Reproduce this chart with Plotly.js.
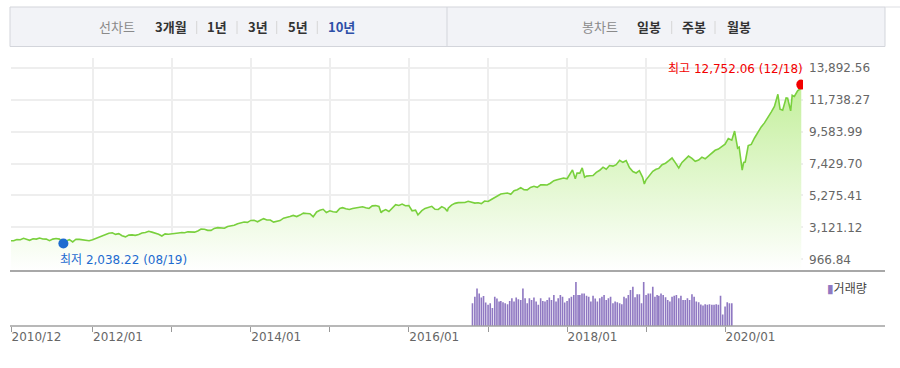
<!DOCTYPE html>
<html><head><meta charset="utf-8">
<script src="https://cdn.plot.ly/plotly-3.0.1.min.js"></script>
<style>html,body{margin:0;padding:0;background:#fff;}#chart{width:900px;height:368px;}</style>
</head><body><div id="chart"></div>
<script>
// ---------- DATA ----------
const lineDates = [
'2010-12-20',
'2011-01-01','2011-01-16','2011-02-01','2011-02-16','2011-03-01','2011-03-16','2011-04-01','2011-04-16','2011-05-01','2011-05-16','2011-06-01','2011-06-16','2011-07-01','2011-07-16','2011-08-01','2011-08-10','2011-08-19','2011-09-01','2011-09-16','2011-10-01','2011-10-16','2011-11-01','2011-11-16','2011-12-01','2011-12-16',
'2012-01-01','2012-01-16','2012-02-01','2012-02-16','2012-03-01','2012-03-16','2012-04-01','2012-04-16','2012-05-01','2012-05-16','2012-06-01','2012-06-16','2012-07-01','2012-07-16','2012-08-01','2012-08-16','2012-09-01','2012-09-16','2012-10-01','2012-10-16','2012-11-01','2012-11-16','2012-12-01','2012-12-16',
'2013-01-01','2013-01-16','2013-02-01','2013-02-16','2013-03-01','2013-03-16','2013-04-01','2013-04-16','2013-05-01','2013-05-16','2013-06-01','2013-06-16','2013-07-01','2013-07-16','2013-08-01','2013-08-16','2013-09-01','2013-09-16','2013-10-01','2013-10-16','2013-11-01','2013-11-16','2013-12-01','2013-12-16',
'2014-01-01','2014-01-16','2014-02-01','2014-02-16','2014-03-01','2014-03-16','2014-04-01','2014-04-16','2014-05-01','2014-05-16','2014-06-01','2014-06-16','2014-07-01','2014-07-16','2014-08-01','2014-08-16','2014-09-01','2014-09-16','2014-10-01','2014-10-16','2014-11-01','2014-11-16','2014-12-01','2014-12-16',
'2015-01-01','2015-01-16','2015-02-01','2015-02-16','2015-03-01','2015-03-16','2015-04-01','2015-04-16','2015-05-01','2015-05-16','2015-06-01','2015-06-16','2015-07-01','2015-07-16','2015-08-01','2015-08-16','2015-08-26','2015-09-01','2015-09-16','2015-10-01','2015-10-16','2015-11-01','2015-11-16','2015-12-01','2015-12-16',
'2016-01-01','2016-01-16','2016-02-01','2016-02-12','2016-03-01','2016-03-16','2016-04-01','2016-04-16','2016-05-01','2016-05-16','2016-06-01','2016-06-16','2016-06-27','2016-07-01','2016-07-16','2016-08-01','2016-08-16','2016-09-01','2016-09-16','2016-10-01','2016-10-16','2016-11-01','2016-11-16','2016-12-01','2016-12-16',
'2017-01-01','2017-01-16','2017-02-01','2017-02-16','2017-03-01','2017-03-16','2017-04-01','2017-04-16','2017-05-01','2017-05-16','2017-06-01','2017-06-16','2017-07-01','2017-07-16','2017-08-01','2017-08-16','2017-09-01','2017-09-16','2017-10-01','2017-10-16','2017-11-01','2017-11-16','2017-12-01','2017-12-16',
'2018-01-01','2018-01-16','2018-01-26','2018-02-08','2018-02-16','2018-03-01','2018-03-12','2018-03-23','2018-04-01','2018-04-16','2018-05-01','2018-05-16','2018-06-01','2018-06-16','2018-07-01','2018-07-16','2018-08-01','2018-08-16','2018-09-01','2018-09-16','2018-10-01','2018-10-16','2018-11-01','2018-11-16','2018-12-01','2018-12-16','2018-12-24',
'2019-01-01','2019-01-16','2019-02-01','2019-02-16','2019-03-01','2019-03-16','2019-04-01','2019-04-16','2019-05-01','2019-05-16','2019-06-01','2019-06-16','2019-07-01','2019-07-16','2019-08-01','2019-08-16','2019-09-01','2019-09-16','2019-10-01','2019-10-16','2019-11-01','2019-11-16','2019-12-01','2019-12-16',
'2020-01-01','2020-01-16','2020-02-01','2020-02-14','2020-02-28','2020-03-06','2020-03-13','2020-03-20','2020-03-27','2020-04-03','2020-04-17','2020-05-01','2020-05-16','2020-06-01','2020-06-16','2020-07-01','2020-07-16','2020-08-01','2020-08-16','2020-09-01','2020-09-11','2020-09-23','2020-10-09','2020-10-16','2020-10-30','2020-11-06','2020-11-16','2020-12-01','2020-12-11','2020-12-18'
];
const lineValues = [
2215,
2220,2300,2290,2380,2330,2250,2350,2330,2400,2340,2330,2220,2330,2370,2330,2150,2038.22,2210,2290,2140,2320,2310,2290,2270,2220,
2280,2380,2480,2570,2650,2730,2755,2650,2700,2560,2480,2600,2616,2580,2640,2740,2770,2860,2800,2740,2660,2540,2680,2660,
2670,2700,2740,2770,2760,2820,2810,2800,2880,3000,2990,2920,2920,3050,3100,3060,3060,3180,3220,3260,3360,3420,3480,3460,
3590,3600,3500,3620,3710,3620,3620,3480,3530,3580,3740,3780,3850,3930,3850,3950,4080,4060,4040,3840,4160,4270,4340,4120,
4240,4170,4150,4400,4450,4380,4330,4400,4420,4490,4510,4450,4400,4570,4590,4530,4100,4210,4320,4190,4430,4650,4600,4690,4580,
4590,4240,4280,3960,4250,4400,4500,4540,4340,4330,4520,4400,4200,4420,4620,4740,4790,4780,4800,4880,4810,4760,4780,4730,4900,
4870,5000,5120,5280,5370,5410,5440,5350,5590,5660,5800,5660,5650,5820,5890,5820,5990,6000,5980,6100,6270,6340,6370,6450,
6400,6820,7000,6400,6780,6780,7130,6500,6580,6600,6620,6830,6970,7180,7040,7290,7250,7350,7650,7510,7630,7150,6890,6790,6950,6500,6050,
6330,6640,6900,7040,7100,7350,7450,7620,7800,7490,7130,7500,7700,7930,7780,7580,7660,7860,7750,7950,8150,8320,8400,8590,
8730,9120,9000,9620,8460,8530,7880,6990,7500,7530,8640,8720,9150,9560,9900,10170,10570,10900,11280,12100,11090,11030,11850,11830,10980,12030,11950,12330,12440,12752.06
];
const volumeDates = [
'2016-10-21','2016-11-01','2016-11-11','2016-11-21','2016-12-01','2016-12-11','2016-12-21',
'2017-01-01','2017-01-11','2017-01-21','2017-02-01','2017-02-11','2017-02-21','2017-03-01','2017-03-11','2017-03-21','2017-04-01','2017-04-11','2017-04-21','2017-05-01','2017-05-11','2017-05-21','2017-06-01','2017-06-11','2017-06-21','2017-07-01','2017-07-11','2017-07-21','2017-08-01','2017-08-11','2017-08-21','2017-09-01','2017-09-11','2017-09-21','2017-10-01','2017-10-11','2017-10-21','2017-11-01','2017-11-11','2017-11-21','2017-12-01','2017-12-11','2017-12-21',
'2018-01-01','2018-01-11','2018-01-21','2018-02-01','2018-02-11','2018-02-21','2018-03-01','2018-03-11','2018-03-21','2018-04-01','2018-04-11','2018-04-21','2018-05-01','2018-05-11','2018-05-21','2018-06-01','2018-06-11','2018-06-21','2018-07-01','2018-07-11','2018-07-21','2018-08-01','2018-08-11','2018-08-21','2018-09-01','2018-09-11','2018-09-21','2018-10-01','2018-10-11','2018-10-21','2018-11-01','2018-11-11','2018-11-21','2018-12-01','2018-12-11','2018-12-21',
'2019-01-01','2019-01-11','2019-01-21','2019-02-01','2019-02-11','2019-02-21','2019-03-01','2019-03-11','2019-03-21','2019-04-01','2019-04-11','2019-04-21','2019-05-01','2019-05-11','2019-05-21','2019-06-01','2019-06-11','2019-06-21','2019-07-01','2019-07-11','2019-07-21','2019-08-01','2019-08-11','2019-08-21','2019-09-01','2019-09-11','2019-09-21','2019-10-01','2019-10-11','2019-10-21','2019-11-01','2019-11-11','2019-11-21','2019-12-01','2019-12-11','2019-12-21',
'2020-01-01','2020-01-11','2020-01-21','2020-02-01'
];
const volumeValues = [
70,90,115,100,87,92,72,65,70,55,
90,84,75,77,73,70,67,77,85,75,
87,82,80,115,85,70,85,80,87,75,
65,85,77,75,80,87,80,95,75,85,
95,90,72,77,85,90,95,135,95,95,
100,100,93,90,75,93,84,75,85,90,
95,80,85,90,70,75,73,70,67,90,
85,95,110,120,88,97,97,70,135,95,
100,100,120,90,95,93,100,95,88,80,
75,90,93,95,85,93,80,80,85,80,
97,90,75,73,66,63,67,65,67,65,
65,67,65,93,35,60,73,70,70
];
const yTickValues = [966.84, 3121.12, 5275.41, 7429.70, 9583.99, 11738.27, 13892.56];
const xTickDates = ['2010-12-20','2012-01-01','2013-01-01','2014-01-01','2015-01-01','2016-01-01','2017-01-01','2018-01-01','2019-01-01','2020-01-01'];
const xTickLabels = ['2010/12','2012/01','','2014/01','','2016/01','','2018/01','','2020/01'];
const periodLabels = ['3개월','1년','3년','5년','10년'];
const candleLabels = ['일봉','주봉','월봉'];
const volumeLabel = '거래량';

// ---------- LAYOUT HELPERS ----------
const W = 900, H = 368;
const M = {l: 11, r: 97, t: 58, b: 42};
const PW = W - M.l - M.r, PH = H - M.t - M.b;
const px = x => (x - M.l) / PW;
const py = y => (H - M.b - y) / PH;
const FONT = 'DejaVu Sans, Noto Sans CJK KR, sans-serif';
const KFONT = 'Noto Sans CJK KR, DejaVu Sans, sans-serif';
const DAY = 86400000;

let iMax = 0, iMin = 0;
lineValues.forEach((v, i) => { if (v > lineValues[iMax]) iMax = i; if (v < lineValues[iMin]) iMin = i; });
const fmt = v => v.toLocaleString('en-US', {minimumFractionDigits: 2, maximumFractionDigits: 2});
const md = d => d.slice(5, 7) + '/' + d.slice(8, 10);

const traces = [
  {x: lineDates, y: lineValues, type: 'scatter', mode: 'lines', xaxis: 'x', yaxis: 'y',
   line: {color: '#79d03d', width: 1.6}, fill: 'tozeroy',
   fillgradient: {type: 'vertical', start: 177, stop: 12800, colorscale: [[0, '#ffffff'], [1, '#c3ef9b']]},
   hoverinfo: 'skip', showlegend: false},
  {x: [lineDates[iMax]], y: [lineValues[iMax]], type: 'scatter', mode: 'markers', xaxis: 'x', yaxis: 'y',
   marker: {color: '#f20000', size: 10}, hoverinfo: 'skip', showlegend: false},
  {x: [lineDates[iMin]], y: [lineValues[iMin]], type: 'scatter', mode: 'markers', xaxis: 'x', yaxis: 'y',
   marker: {color: '#1e6bd0', size: 10}, hoverinfo: 'skip', showlegend: false},
  {x: volumeDates, y: volumeValues, type: 'bar', xaxis: 'x2', yaxis: 'y2', width: 7.5 * DAY,
   marker: {color: '#8f78c2', line: {width: 0}}, hoverinfo: 'skip', showlegend: false}
];

const mainBottom = 271, volTop = 272.5;
const annotations = [];
const shapes = [];
function txt(text, x, y, opts) {
  annotations.push(Object.assign({text, xref: 'paper', yref: 'paper', x: px(x), y: py(y),
    xanchor: 'left', yanchor: 'middle', showarrow: false,
    font: {family: KFONT, size: 13, color: '#333'}}, opts || {}));
}
function line(x0, y0, x1, y1, color, width) {
  shapes.push({type: 'line', xref: 'paper', yref: 'paper', x0: px(x0), y0: py(y0), x1: px(x1), y1: py(y1),
    line: {color, width}, layer: 'above'});
}
// top selector bar
shapes.push({type: 'rect', xref: 'paper', yref: 'paper', x0: px(10), x1: px(885), y0: py(46.5), y1: py(7),
  fillcolor: '#f2f3f7', line: {color: '#d3d5db', width: 1}, layer: 'below'});
line(447, 7, 447, 46.5, '#d3d5db', 1);
line(885, 7, 900, 7, '#dedfe3', 1);
txt('선차트', 97, 27, {font: {family: KFONT, size: 13, color: '#8a8a8a'}});
const periodX = [153, 205, 246, 286, 326];
periodLabels.forEach((t, i) => {
  const last = i === periodLabels.length - 1;
  txt('<b>' + t + '</b>', periodX[i], 27, {font: {family: KFONT, size: 13, color: last ? '#2d4fa8' : '#333'}});
});
[196.7, 237, 276.7, 317.3].forEach(x => line(x, 21, x, 34, '#d6d6d6', 1));
txt('봉차트', 580, 27, {font: {family: KFONT, size: 13, color: '#8a8a8a'}});
const candleX = [635, 680, 725];
candleLabels.forEach((t, i) => txt('<b>' + t + '</b>', candleX[i], 27));
[671.7, 715].forEach(x => line(x, 21, x, 34, '#d6d6d6', 1));
// long axis lines
line(10, mainBottom, 885, mainBottom, '#a8a8a8', 2);
line(10, H - M.b, 885, H - M.b, '#a0a0a0', 1.5);
// volume legend
txt('<span style="color:#8f78c2">▮</span>' + volumeLabel, 825, 287, {font: {family: KFONT, size: 12, color: '#444'}});
// max / min labels
annotations.push({text: '최고 ' + fmt(lineValues[iMax]) + ' (' + md(lineDates[iMax]) + ')', xref: 'x', yref: 'y',
  x: lineDates[iMax], y: lineValues[iMax], xanchor: 'right', yanchor: 'middle', xshift: 4, yshift: 16,
  showarrow: false, font: {family: FONT, size: 12, color: '#f20000'}});
annotations.push({text: '최저 ' + fmt(lineValues[iMin]) + ' (' + md(lineDates[iMin]) + ')', xref: 'x', yref: 'y',
  x: lineDates[iMin], y: lineValues[iMin], xanchor: 'left', yanchor: 'middle', xshift: -5, yshift: -17,
  showarrow: false, font: {family: FONT, size: 12, color: '#1e6bd0'}});

const xRange = ['2010-12-20', '2020-12-26'];
const layout = {
  width: W, height: H, margin: M, paper_bgcolor: '#fff', plot_bgcolor: 'rgba(0,0,0,0)',
  showlegend: false,
  xaxis: {type: 'date', range: xRange, domain: [0, 1], anchor: 'y', tickmode: 'array', tickvals: xTickDates,
    showticklabels: false, ticks: '', showgrid: true, gridcolor: '#eeeeee', gridwidth: 2, zeroline: false, showline: false},
  yaxis: {domain: [py(mainBottom), 1], range: [177.4, 14547], side: 'right', tickmode: 'array', tickvals: yTickValues,
    tickformat: ',.2f', ticks: '', ticklabelstandoff: 5, showgrid: true, gridcolor: '#eeeeee', gridwidth: 2,
    zeroline: false, showline: false, tickfont: {family: FONT, size: 12, color: '#666'}},
  xaxis2: {type: 'date', range: xRange, matches: 'x', domain: [0, 1], anchor: 'y2', tickmode: 'array',
    tickvals: xTickDates, ticktext: xTickLabels, ticks: 'outside', ticklen: 5, tickwidth: 1, tickcolor: '#999',
    ticklabelposition: 'outside right', showgrid: false, zeroline: false, showline: false,
    tickfont: {family: FONT, size: 12, color: '#666'}},
  yaxis2: {domain: [0, py(volTop)], range: [0, 164], showticklabels: false, showgrid: false, zeroline: false,
    showline: false, ticks: ''},
  annotations, shapes
};
Plotly.newPlot('chart', traces, layout, {staticPlot: true, displayModeBar: false});
</script>
</body></html>
